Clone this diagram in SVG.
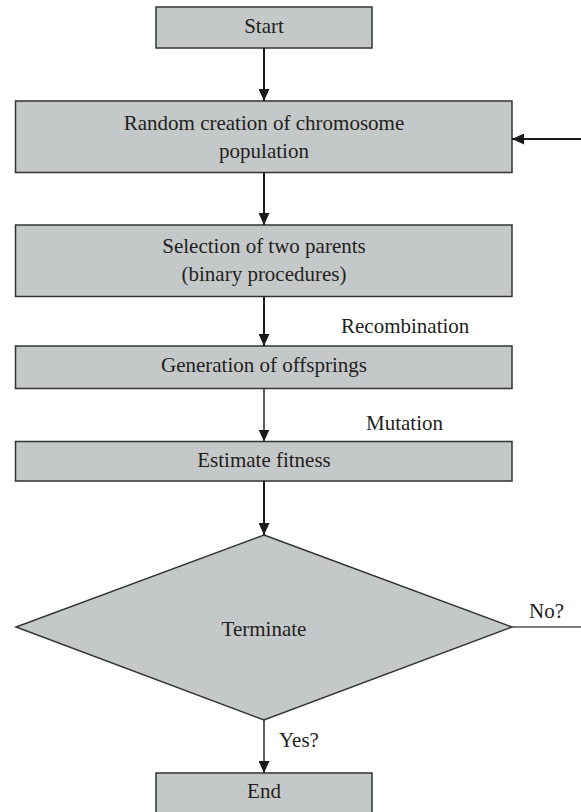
<svg xmlns="http://www.w3.org/2000/svg" width="581" height="812" viewBox="0 0 581 812">
<defs>
<style>
.box{fill:#c5c8c8;stroke:#333;stroke-width:1.5}
text{font-family:'Liberation Serif','DejaVu Serif',serif;font-size:21px;fill:#231f20}
.t{text-anchor:middle}
.c{stroke:#1a1a1a;stroke-width:2;fill:none}
.cthin{stroke:#1a1a1a;stroke-width:1.4;fill:none}
.cg{stroke:#555;stroke-width:1.5;fill:none}
</style>
<marker id="ah" viewBox="0 0 12 11" refX="12" refY="5.5" markerWidth="12" markerHeight="11" markerUnits="userSpaceOnUse" orient="auto">
<path d="M0,0 L12,5.5 L0,11 Z" fill="#1a1a1a"/>
</marker>
</defs>
<g id="start"><rect class="box" x="156" y="7" width="216" height="41"/><text class="t" x="264" y="33" font-family="Liberation Serif, DejaVu Serif, serif">Start</text></g>
<g id="random"><rect class="box" x="15.5" y="101" width="496.5" height="71.5"/><text class="t" x="264" y="130" font-family="Liberation Serif, DejaVu Serif, serif">Random creation of chromosome</text><text class="t" x="264" y="158" font-family="Liberation Serif, DejaVu Serif, serif">population</text></g>
<g id="selection"><rect class="box" x="15.5" y="225" width="496.5" height="71.5"/><text class="t" x="264" y="253" font-family="Liberation Serif, DejaVu Serif, serif">Selection of two parents</text><text class="t" x="264" y="281" font-family="Liberation Serif, DejaVu Serif, serif">(binary procedures)</text></g>
<g id="generation"><rect class="box" x="15.5" y="346" width="496.5" height="42.5"/><text class="t" x="264" y="372" font-family="Liberation Serif, DejaVu Serif, serif">Generation of offsprings</text></g>
<g id="estimate"><rect class="box" x="15.5" y="441.5" width="496.5" height="39.5"/><text class="t" x="264" y="467" font-family="Liberation Serif, DejaVu Serif, serif">Estimate fitness</text></g>
<g id="terminate"><polygon class="box" points="264,535 512,627 264,720 16,627"/><text class="t" x="264" y="636" font-family="Liberation Serif, DejaVu Serif, serif">Terminate</text></g>
<g id="end"><rect class="box" x="156" y="773" width="216" height="45"/><text class="t" x="264" y="798" font-family="Liberation Serif, DejaVu Serif, serif">End</text></g>
<g id="connectors">
<line class="c" x1="264" y1="48" x2="264" y2="101" marker-end="url(#ah)"/>
<line class="c" x1="264" y1="172.5" x2="264" y2="225" marker-end="url(#ah)"/>
<line class="c" x1="264" y1="296.5" x2="264" y2="346" marker-end="url(#ah)"/>
<line class="cthin" x1="264" y1="388.5" x2="264" y2="441.5" marker-end="url(#ah)"/>
<line class="c" x1="264" y1="481" x2="264" y2="535" marker-end="url(#ah)"/>
<line class="cthin" x1="264" y1="720" x2="264" y2="773" marker-end="url(#ah)"/>
<line class="cg" x1="512" y1="627" x2="581" y2="627"/>
<line class="c" x1="581" y1="139" x2="512" y2="139" marker-end="url(#ah)"/>
<text x="341" y="333" font-family="Liberation Serif, DejaVu Serif, serif">Recombination</text>
<text x="366" y="430" font-family="Liberation Serif, DejaVu Serif, serif">Mutation</text>
<text x="529" y="618" font-family="Liberation Serif, DejaVu Serif, serif">No?</text>
<text x="279" y="747" font-family="Liberation Serif, DejaVu Serif, serif">Yes?</text>
</g>
</svg>
